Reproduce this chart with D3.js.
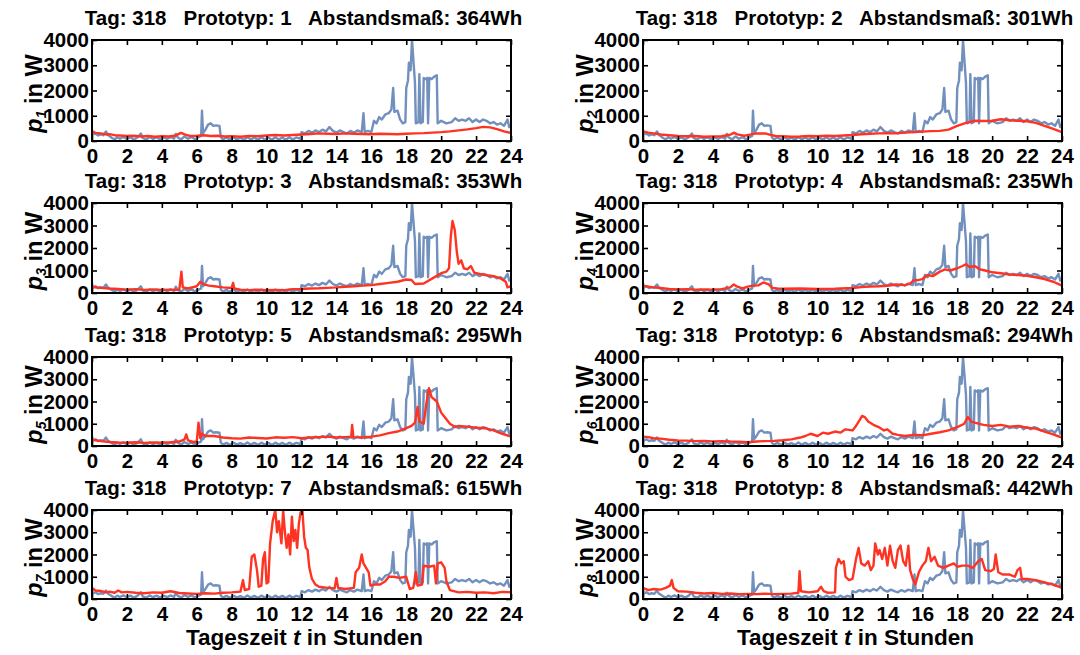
<!DOCTYPE html>
<html>
<head>
<meta charset="utf-8">
<script src="https://cdn.jsdelivr.net/npm/d3@7"></script>
<style>
  body { margin: 0; background: #fff; }
  svg { display: block; }
  text { font-family: "Liberation Sans", Arial, Helvetica, sans-serif; font-weight: bold; fill: #000; }
</style>
</head>
<body>
<svg id="chart" width="1080" height="655"></svg>
<script>
// Day 318: measured load profile (hours, W)
const actual = [[0,450],[0.05,250],[0.2,300],[0.35,220],[0.5,260],[0.65,230],[0.8,380],[0.9,250],[1.0,200],[1.15,120],[1.3,60],[1.45,150],[1.6,90],[1.8,160],[2.0,80],[2.2,150],[2.4,60],[2.6,140],[2.8,300],[2.9,120],[3.1,60],[3.3,160],[3.5,80],[3.7,150],[3.9,60],[4.1,150],[4.3,80],[4.5,160],[4.7,90],[4.8,280],[4.9,150],[5.1,60],[5.3,180],[5.5,90],[5.7,160],[5.9,70],[6.1,150],[6.25,200],[6.3,1200],[6.36,300],[6.5,450],[6.65,650],[6.8,700],[6.95,600],[7.1,620],[7.3,600],[7.38,150],[7.5,60],[7.7,140],[7.9,50],[8.1,150],[8.3,60],[8.5,130],[8.7,50],[8.9,160],[9.1,60],[9.3,140],[9.5,50],[9.7,150],[9.9,60],[10.1,140],[10.3,50],[10.5,150],[10.7,60],[10.9,140],[11.1,50],[11.3,150],[11.5,60],[11.7,140],[11.95,80],[12.0,350],[12.2,300],[12.4,400],[12.6,330],[12.8,420],[13.0,350],[13.2,450],[13.4,380],[13.6,550],[13.8,400],[14.0,330],[14.2,420],[14.4,350],[14.6,300],[14.8,400],[15.0,330],[15.2,420],[15.45,350],[15.55,1100],[15.62,350],[15.8,400],[16.0,350],[16.15,800],[16.3,700],[16.45,950],[16.6,850],[16.8,1050],[17.0,1100],[17.15,1250],[17.25,2100],[17.32,1150],[17.5,1200],[17.65,850],[17.8,700],[17.95,750],[18.0,2100],[18.1,2400],[18.15,3100],[18.25,2800],[18.33,4000],[18.42,3100],[18.5,2300],[18.55,700],[18.7,750],[18.75,2650],[18.82,700],[18.95,750],[19.0,2500],[19.1,2450],[19.2,2500],[19.25,700],[19.32,2500],[19.45,2450],[19.6,2550],[19.75,2600],[19.8,700],[20.0,800],[20.3,700],[20.6,750],[20.8,900],[21.0,800],[21.2,850],[21.4,800],[21.6,900],[21.8,750],[22.0,850],[22.2,750],[22.4,850],[22.6,800],[22.8,700],[23.0,750],[23.2,650],[23.4,700],[23.6,600],[23.8,850],[23.9,550],[24,650]];

// Prototype profiles p1 ... p8 (hours, W)
const proto1 = [[0,380],[0.2,320],[0.5,300],[0.8,260],[1,270],[1.3,230],[1.6,220],[2,200],[2.4,210],[2.8,180],[3.2,200],[3.6,170],[4,190],[4.4,180],[4.8,220],[5.1,320],[5.3,260],[5.6,200],[6,210],[6.4,230],[6.8,200],[7.2,210],[7.6,180],[8,190],[8.5,170],[9,200],[9.5,190],[10,220],[10.5,240],[11,220],[11.5,240],[12,260],[12.5,280],[13,300],[13.5,290],[14,280],[14.5,300],[15,290],[15.5,280],[16,270],[16.5,290],[17,280],[17.5,270],[18,290],[18.5,300],[19,310],[19.5,330],[20,350],[20.5,380],[21,420],[21.5,460],[22,510],[22.4,560],[22.8,540],[23.2,470],[23.6,380],[24,320]];
const proto2 = [[0,380],[0.3,330],[0.6,300],[1,260],[1.5,230],[2,200],[2.5,190],[3,200],[3.5,170],[4,180],[4.5,190],[5,250],[5.2,330],[5.4,260],[5.8,210],[6.2,260],[6.5,300],[7,300],[7.3,240],[7.6,200],[8,190],[8.5,170],[9,180],[9.5,200],[10,190],[10.5,210],[11,200],[11.5,220],[12,240],[12.5,270],[13,290],[13.5,300],[14,310],[14.5,300],[15,330],[15.5,350],[16,370],[16.5,390],[17,400],[17.5,450],[18,600],[18.5,720],[19,800],[19.5,790],[20,800],[20.5,860],[21,820],[21.5,800],[22,780],[22.5,720],[23,600],[23.5,480],[24,350]];
const proto3 = [[0,270],[0.5,230],[1,200],[1.5,180],[2,150],[2.5,170],[3,140],[3.5,160],[4,140],[4.5,150],[5,140],[5.12,950],[5.2,250],[5.5,200],[6,300],[6.2,500],[6.4,380],[6.7,330],[7,300],[7.5,250],[8,220],[8.08,450],[8.15,200],[8.5,150],[9,130],[9.5,150],[10,120],[10.5,140],[11,130],[11.5,170],[12,180],[12.5,200],[13,210],[13.5,230],[14,250],[14.5,280],[15,300],[15.5,330],[16,350],[16.5,400],[17,450],[17.5,500],[18,600],[18.3,580],[18.5,400],[19,420],[19.5,650],[20,880],[20.3,950],[20.45,1100],[20.55,2500],[20.65,3200],[20.78,2800],[20.9,1800],[21.0,1300],[21.15,1450],[21.3,1100],[21.5,1050],[21.7,1200],[21.9,900],[22.2,850],[22.5,800],[23,750],[23.4,650],[23.7,500],[23.8,250],[24,300]];
const proto4 = [[0,320],[0.5,260],[1,220],[1.5,180],[2,160],[2.5,170],[3,150],[3.5,160],[4,150],[4.5,170],[5,250],[5.2,380],[5.4,280],[5.7,200],[6,280],[6.3,330],[6.6,340],[6.9,470],[7.2,380],[7.4,230],[7.7,200],[8,190],[9,200],[10,180],[11,190],[12,220],[12.5,260],[13,290],[13.5,300],[14,320],[14.5,380],[15,350],[15.3,420],[15.5,560],[15.8,580],[16,620],[16.3,800],[16.6,750],[17,950],[17.3,1050],[17.6,1000],[18,1100],[18.3,1200],[18.5,1280],[18.7,1150],[19,1200],[19.3,1050],[19.6,1000],[20,920],[20.5,880],[21,820],[21.5,800],[22,760],[22.5,700],[23,620],[23.5,500],[24,330]];
const proto5 = [[0,280],[0.5,220],[1,180],[1.5,160],[2,150],[2.5,170],[3,140],[3.5,160],[4,150],[4.5,170],[5,200],[5.3,300],[5.4,520],[5.5,250],[5.8,180],[6.0,200],[6.1,1050],[6.2,350],[6.3,550],[6.5,450],[7,450],[7.5,380],[8,350],[8.5,330],[9,380],[9.5,360],[10,340],[10.5,390],[11,370],[11.5,400],[12,350],[12.5,380],[13,400],[13.5,420],[14,380],[14.5,400],[14.85,420],[14.9,950],[14.97,400],[15.5,380],[16,420],[16.5,480],[17,580],[17.5,650],[18,800],[18.3,900],[18.5,1050],[18.65,1750],[18.75,1100],[19,1000],[19.15,1900],[19.3,2600],[19.45,2200],[19.6,2100],[19.75,2000],[19.85,1800],[20,1500],[20.2,1300],[20.5,1000],[20.8,850],[21,900],[21.5,870],[22,820],[22.5,800],[23,700],[23.5,550],[24,420]];
const proto6 = [[0,420],[0.3,400],[0.6,350],[1,330],[1.5,280],[2,250],[2.5,240],[3,220],[3.5,230],[4,210],[4.5,220],[5,200],[5.5,190],[6,170],[6.5,200],[7,220],[7.5,230],[8,260],[8.5,300],[9,380],[9.3,450],[9.6,550],[10,450],[10.3,600],[10.6,550],[11,650],[11.3,600],[11.6,750],[12,700],[12.2,900],[12.4,1150],[12.55,1350],[12.7,1300],[12.9,1100],[13.2,950],[13.5,850],[13.8,700],[14,750],[14.3,550],[14.6,500],[15,450],[15.5,500],[16,480],[16.5,550],[17,620],[17.5,700],[18,850],[18.4,1000],[18.6,1300],[18.8,1100],[19,1050],[19.5,950],[20,900],[20.5,950],[21,870],[21.5,900],[22,820],[22.5,780],[23,650],[23.5,520],[24,380]];
const proto7 = [[0,500],[0.2,380],[0.5,360],[0.8,300],[1,330],[1.3,280],[1.5,380],[1.7,300],[2,320],[2.5,280],[3,260],[3.5,300],[4,280],[4.5,350],[5,270],[5.5,250],[6,230],[6.5,260],[7,240],[7.5,280],[8,300],[8.5,330],[8.65,850],[8.75,400],[9,450],[9.15,1900],[9.3,2000],[9.45,1300],[9.55,550],[9.7,600],[9.8,1800],[9.9,2100],[10.0,700],[10.1,750],[10.2,2500],[10.35,3500],[10.5,4000],[10.6,3000],[10.7,3500],[10.85,2500],[10.95,4000],[11.05,3000],[11.15,2300],[11.25,2900],[11.35,2000],[11.45,3700],[11.55,2600],[11.65,3100],[11.75,2300],[11.85,3400],[11.95,3900],[12.05,4000],[12.15,2800],[12.25,2300],[12.35,2200],[12.45,1400],[12.6,900],[12.8,650],[13,550],[13.5,500],[13.9,480],[14.0,950],[14.1,500],[14.5,450],[15,500],[15.1,1200],[15.3,1400],[15.45,2000],[15.55,1600],[15.7,1400],[15.85,1200],[15.95,600],[16.2,650],[16.5,650],[16.8,800],[17,1000],[17.3,1000],[17.6,950],[18,1000],[18.2,450],[18.4,500],[18.55,1200],[18.65,600],[18.9,650],[19.0,1500],[19.3,1450],[19.6,1500],[19.7,700],[19.8,1600],[20.0,1650],[20.2,1400],[20.3,800],[20.5,400],[21,300],[21.5,320],[22,280],[22.5,300],[23,260],[23.5,320],[24,300]];
const proto8 = [[0,500],[0.3,400],[0.6,450],[1,420],[1.3,500],[1.55,600],[1.65,850],[1.75,500],[2,350],[2.5,330],[3,280],[3.5,250],[4,270],[4.5,230],[5,250],[5.5,220],[6,230],[6.5,220],[7,240],[7.5,220],[8,230],[8.5,240],[8.9,280],[8.97,1250],[9.05,350],[9.5,300],[10,350],[10.2,550],[10.35,350],[10.6,280],[11,300],[11.05,1400],[11.2,1800],[11.35,1600],[11.5,1700],[11.6,1000],[11.8,850],[12,900],[12.2,1800],[12.35,2300],[12.5,1600],[12.7,1500],[12.9,1700],[13.05,1300],[13.2,1500],[13.3,2500],[13.45,2000],[13.55,2200],[13.7,1800],[13.85,2300],[14.0,1500],[14.15,2400],[14.3,1700],[14.45,1400],[14.6,2200],[14.75,2400],[14.9,1700],[15.05,1500],[15.2,2400],[15.3,1300],[15.45,900],[15.6,650],[15.8,1200],[16.0,1500],[16.2,1700],[16.35,2300],[16.5,1700],[16.7,1900],[16.9,1500],[17.2,1400],[17.5,1500],[17.8,1600],[18,1450],[18.3,1500],[18.6,1500],[18.9,1400],[19.2,1700],[19.4,1800],[19.6,1300],[19.9,1250],[20.1,1350],[20.2,2000],[20.35,1200],[20.6,1100],[21,1100],[21.3,1000],[21.45,1300],[21.6,1400],[21.7,900],[22,900],[22.5,850],[23,750],[23.5,650],[24,500]];

const prototypes = [proto1, proto2, proto3, proto4, proto5, proto6, proto7, proto8];
const day = 318;
const distances = [364, 301, 353, 235, 295, 294, 615, 442]; // Wh
const hourTicks = [0, 2, 4, 6, 8, 10, 12, 14, 16, 18, 20, 22, 24];
const powerTicks = [0, 1000, 2000, 3000, 4000];
const xLabel = ["Tageszeit ", "t", " in Stunden"];

const svg = d3.select("#chart");
const colX = [92, 643];
const rowTop = [40, 203, 357, 510];
const rowH = [101, 90, 89, 89];
const W = 419;
const blue = "#7290bd", red = "#ff3322";

const x = d3.scaleLinear().domain([0, 24]).range([0, W]);

prototypes.forEach((proto, k) => {
  const col = k % 2, row = Math.floor(k / 2);
  const H = rowH[row];
  const y = d3.scaleLinear().domain([0, 4000]).range([H, 0]);
  const line = d3.line().x(d => x(d[0])).y(d => y(d[1]));
  const g = svg.append("g").attr("transform", `translate(${colX[col]},${rowTop[row]})`);

  // title
  g.append("text")
    .attr("x", W / 2 + 2).attr("y", -15)
    .attr("text-anchor", "middle")
    .style("font-size", "20.5px")
    .style("white-space", "pre")
    .text(`Tag: ${day}   Prototyp: ${k + 1}   Abstandsmaß: ${distances[k]}Wh`);

  // curves, clipped to the axes box
  const clipId = `clip${k}`;
  g.append("clipPath").attr("id", clipId)
    .append("rect").attr("width", W).attr("height", H);
  const plot = g.append("g").attr("clip-path", `url(#${clipId})`);
  plot.append("path").datum(actual).attr("d", line)
    .attr("fill", "none").attr("stroke", blue).attr("stroke-width", 2.4).attr("stroke-linejoin", "round");
  plot.append("path").datum(proto).attr("d", line)
    .attr("fill", "none").attr("stroke", red).attr("stroke-width", 2.4).attr("stroke-linejoin", "round");

  // axes with inward ticks on all four sides
  const bottom = g.append("g").attr("transform", `translate(0,${H})`)
    .call(d3.axisBottom(x).tickValues(hourTicks).tickSize(-5).tickPadding(7).tickFormat(d3.format("d")));
  const top = g.append("g")
    .call(d3.axisTop(x).tickValues(hourTicks).tickSize(-5).tickFormat(() => ""));
  const left = g.append("g")
    .call(d3.axisLeft(y).tickValues(powerTicks).tickSize(-5).tickPadding(3).tickFormat(d3.format("d")));
  const right = g.append("g").attr("transform", `translate(${W},0)`)
    .call(d3.axisRight(y).tickValues(powerTicks).tickSize(-5).tickFormat(() => ""));
  [bottom, top, left, right].forEach(a => {
    a.select(".domain").remove();
    a.selectAll(".tick line").attr("stroke", "#000").attr("stroke-width", 1.6);
    a.selectAll("text").style("font-size", "20.5px").style("font-family", null).attr("fill", "#000");
  });

  g.append("rect").attr("width", W).attr("height", H)
    .attr("fill", "none").attr("stroke", "#000").attr("stroke-width", 2);

  // y label: p_k in W
  const yl = g.append("text")
    .attr("transform", `translate(${-50},${H / 2 + 3}) rotate(-90)`)
    .attr("text-anchor", "middle")
    .style("font-size", "23.5px");
  yl.append("tspan").style("font-style", "italic").text("p");
  yl.append("tspan").attr("dy", 4).style("font-size", "14px").style("font-style", "italic").text(k + 1);
  yl.append("tspan").attr("dy", -4).text(" in W");

  // x label under the bottom row
  if (row === 3) {
    const xl = g.append("text")
      .attr("x", W / 2 + 3).attr("y", H + 46)
      .attr("text-anchor", "middle")
      .style("font-size", "22.5px");
    xl.append("tspan").text(xLabel[0]);
    xl.append("tspan").style("font-style", "italic").text(xLabel[1]);
    xl.append("tspan").text(xLabel[2]);
  }
});
</script>
</body>
</html>
